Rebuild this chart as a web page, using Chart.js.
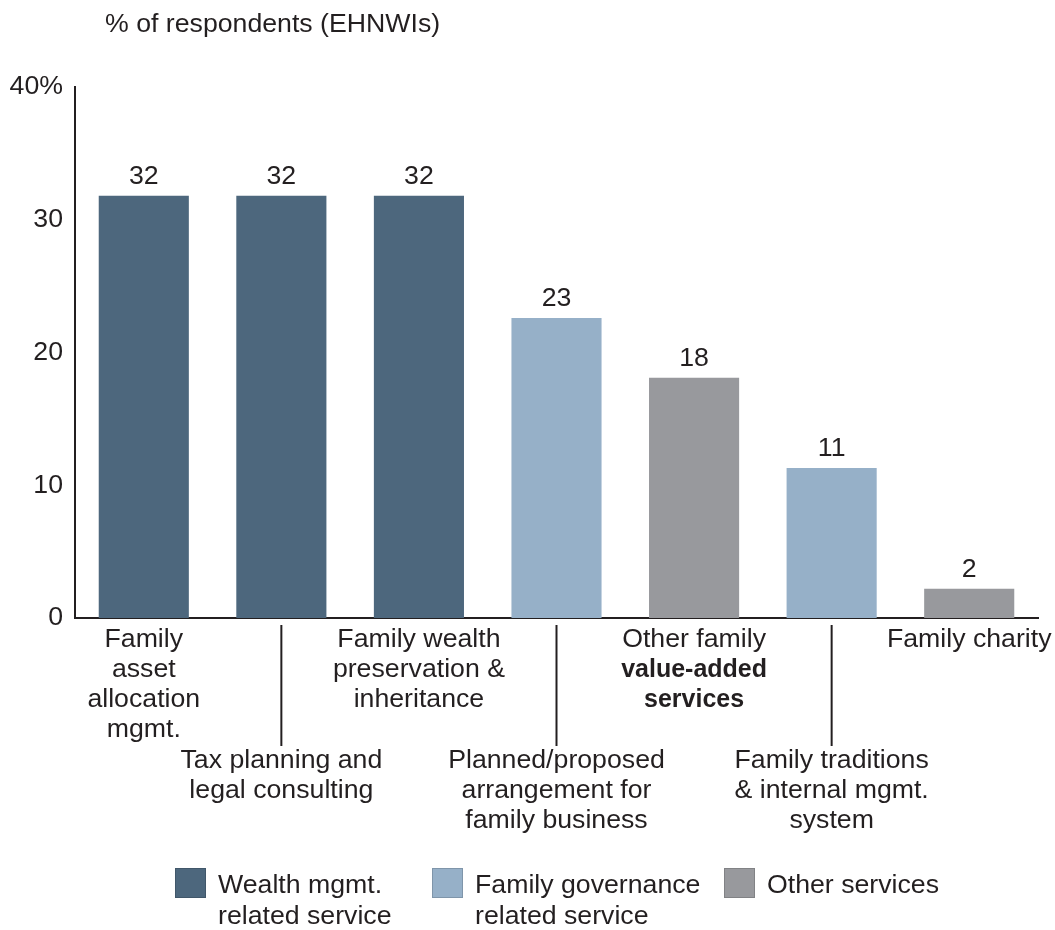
<!DOCTYPE html>
<html>
<head>
<meta charset="utf-8">
<script src="https://cdn.jsdelivr.net/npm/chart.js@4/dist/chart.umd.min.js"></script>
<style>
html, body { margin: 0; padding: 0; background: #fff; }
#wrap { width: 1055px; height: 930px; position: relative; }
</style>
</head>
<body>
<div id="wrap"><canvas id="chart"></canvas></div>
<script>
// chart values
var categories = [
    ["Family", "asset", "allocation", "mgmt."],
    ["Tax planning and", "legal consulting"],
    ["Family wealth", "preservation &", "inheritance"],
    ["Planned/proposed", "arrangement for", "family business"],
    ["Other family", "value-added", "services"],
    ["Family traditions", "& internal mgmt.", "system"],
    ["Family charity"]
];
var values = [31.8, 31.8, 31.8, 22.6, 18.1, 11.3, 2.2];
var groupOf = [0, 0, 0, 1, 2, 1, 2];
var groupNames = [
    ["Wealth mgmt.", "related service"],
    ["Family governance", "related service"],
    ["Other services"]
];
var yTicks = [0, 10, 20, 30, 40];
var yTitle = "% of respondents (EHNWIs)";

var colors = ["#4d677d", "#96b0c8", "#98999d"];
var FONT = '"Liberation Sans", Arial, Helvetica, sans-serif';
var FS = "26.7px ";
var INK = "#231f20";

var extras = {
    id: "extras",
    afterDraw: function (chart) {
        var ctx = chart.ctx;
        var xs = chart.scales.x;
        var area = chart.chartArea;
        ctx.save();
        ctx.fillStyle = INK;
        ctx.font = FS + FONT;

        // title
        ctx.textAlign = "left";
        ctx.textBaseline = "middle";
        ctx.fillText(yTitle, 105, 25);

        // value labels
        ctx.textAlign = "center";
        ctx.textBaseline = "alphabetic";
        chart.getDatasetMeta(0).data.forEach(function (bar, i) {
            ctx.fillText(Math.round(values[i]), bar.x, bar.y - 12);
        });

        // staggered category labels
        ctx.textBaseline = "middle";
        categories.forEach(function (lines, i) {
            var x = xs.getPixelForValue(i);
            var y0 = area.bottom + (i % 2 === 0 ? 22 : 143);
            if (i % 2 === 1) {
                ctx.strokeStyle = INK;
                ctx.lineWidth = 2;
                ctx.beginPath();
                ctx.moveTo(x, area.bottom + 7);
                ctx.lineTo(x, area.bottom + 128);
                ctx.stroke();
            }
            lines.forEach(function (t, k) {
                ctx.font = (i === 4 && k > 0 ? "bold 25px " : FS) + FONT;
                ctx.fillText(t, x, y0 + k * 30);
            });
        });

        // legend
        var lx = [175, 432, 724];
        ctx.textAlign = "left";
        ctx.font = FS + FONT;
        groupNames.forEach(function (lines, g) {
            ctx.fillStyle = colors[g];
            ctx.fillRect(lx[g], 868, 31, 30);
            ctx.strokeStyle = "rgba(0,0,0,0.15)";
            ctx.lineWidth = 1;
            ctx.strokeRect(lx[g] + 0.5, 868.5, 30, 29);
            ctx.fillStyle = INK;
            lines.forEach(function (t, k) {
                ctx.fillText(t, lx[g] + 43, 886 + k * 31);
            });
        });
        ctx.restore();
    }
};

new Chart(document.getElementById("chart"), {
    type: "bar",
    data: {
        labels: categories,
        datasets: [{
            data: values,
            backgroundColor: groupOf.map(function (g) { return colors[g]; }),
            barPercentage: 0.655,
            categoryPercentage: 1
        }]
    },
    options: {
        responsive: true,
        maintainAspectRatio: false,
        animation: false,
        layout: { padding: { top: 87, right: 17, bottom: 304, left: 0 } },
        plugins: { legend: { display: false }, tooltip: { enabled: false } },
        scales: {
            x: {
                ticks: { display: false },
                grid: { display: false },
                border: { display: true, color: INK, width: 2 }
            },
            y: {
                min: 0,
                max: 40,
                afterBuildTicks: function (s) { s.ticks = yTicks.map(function (v) { return { value: v }; }); },
                afterFit: function (s) { s.width = 75; },
                ticks: {
                    padding: 4,
                    color: INK,
                    font: { family: FONT, size: 26.7 },
                    callback: function (v) { return v === 40 ? "40%" : v; }
                },
                grid: { display: false },
                border: { display: true, color: INK, width: 2 }
            }
        }
    },
    plugins: [extras]
});
</script>
</body>
</html>
